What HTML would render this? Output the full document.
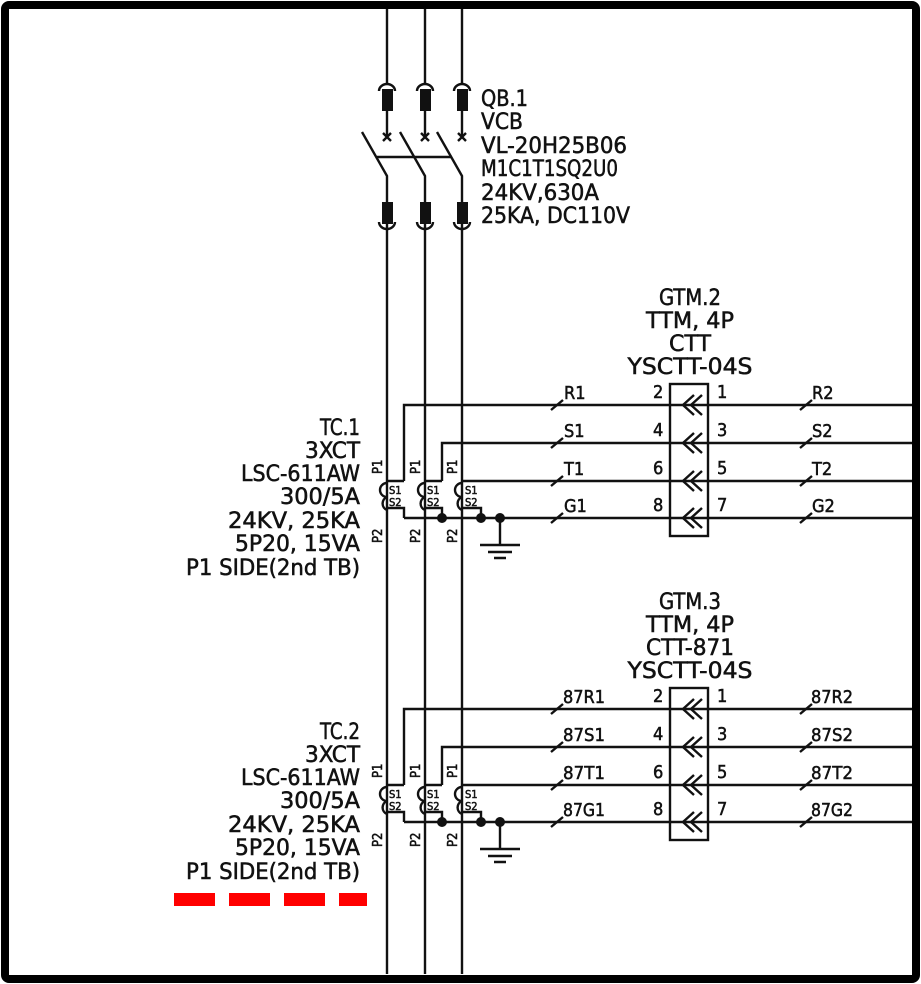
<!DOCTYPE html>
<html><head><meta charset="utf-8"><style>
html,body{margin:0;padding:0;background:#fff}
svg{display:block}
text{font-family:"DejaVu Sans Condensed","DejaVu Sans","Liberation Sans",sans-serif;fill:#111;stroke:#111;stroke-width:0.5}
</style></head><body>
<svg width="921" height="984" viewBox="0 0 921 984" xmlns="http://www.w3.org/2000/svg">
<defs>
<g id="ct" stroke="#111" stroke-width="2.4" fill="none">
  <path d="M387,483 A7,7 0 0 0 387,497 A7,7 0 0 0 387,510"/>
  <path d="M425,483 A7,7 0 0 0 425,497 A7,7 0 0 0 425,510"/>
  <path d="M462,483 A7,7 0 0 0 462,497 A7,7 0 0 0 462,510"/>
  <path d="M387,481 H404 M387,508 H404 V518"/>
  <path d="M425,481 H442 M425,508 H442 V518"/>
  <path d="M462,481 H481 M462,508 H481 V518"/>
  <path d="M404,481 V405 H912"/>
  <path d="M442,481 V443 H912"/>
  <path d="M481,481 H912"/>
  <path d="M404,518 H912"/>
  <path d="M500,518 V545 M480,545 H520 M488,552 H512 M494,558 H506"/>
  <rect x="670" y="384" width="38" height="152"/>
  <path d="M694,395 L683,405 L694,415 M702,395 L691,405 L702,415"/>
  <path d="M694,433 L683,443 L694,453 M702,433 L691,443 L702,453"/>
  <path d="M694,471 L683,481 L694,491 M702,471 L691,481 L702,491"/>
  <path d="M694,508 L683,518 L694,528 M702,508 L691,518 L702,528"/>
  <path d="M551,410 L563,400 M551,448 L563,438 M551,486 L563,476 M551,523 L563,513"/>
  <path d="M800,410 L812,400 M800,448 L812,438 M800,486 L812,476 M800,523 L812,513"/>
</g>
<g id="ctx" fill="#111">
  <circle cx="442" cy="518" r="5"/><circle cx="481" cy="518" r="5"/><circle cx="500" cy="518" r="5"/>
  <g font-size="11">
    <text x="389" y="494">S1</text><text x="389" y="506">S2</text>
    <text x="427" y="494">S1</text><text x="427" y="506">S2</text>
    <text x="465" y="494">S1</text><text x="465" y="506">S2</text>
  </g>
  <g font-size="13">
    <text transform="translate(382,474) rotate(-90)">P1</text>
    <text transform="translate(420,474) rotate(-90)">P1</text>
    <text transform="translate(457,474) rotate(-90)">P1</text>
    <text transform="translate(382,543) rotate(-90)">P2</text>
    <text transform="translate(420,543) rotate(-90)">P2</text>
    <text transform="translate(457,543) rotate(-90)">P2</text>
  </g>
  <g font-size="18">
    <text x="653" y="398">2</text><text x="653" y="436">4</text><text x="653" y="474">6</text><text x="653" y="511">8</text>
    <text x="717" y="398">1</text><text x="717" y="436">3</text><text x="717" y="474">5</text><text x="717" y="511">7</text>
  </g>
</g>
</defs>

<rect x="5" y="5" width="911" height="974" rx="4" fill="none" stroke="#000" stroke-width="8"/>

<g stroke="#111" stroke-width="2.4" fill="none">
  <path d="M387,9 V83 M425,9 V83 M462,9 V83"/>
  <path d="M379,91 A8,7 0 0 1 395,91 M417,91 A8,7 0 0 1 433,91 M454,91 A8,7 0 0 1 470,91"/>
  <path d="M387,110 V137 M425,110 V137 M462,110 V137"/>
  <path d="M383,133 L391,141 M391,133 L383,141 M421,133 L429,141 M429,133 L421,141 M458,133 L466,141 M466,133 L458,141"/>
  <path d="M362,132 L387,176 V203 M400,132 L425,176 V203 M437,132 L462,176 V203"/>
  <path d="M377,157 H452"/>
  <path d="M379,222 A8,7 0 0 0 395,222 M417,222 A8,7 0 0 0 433,222 M454,222 A8,7 0 0 0 470,222"/>
  <path d="M387,222 V974 M425,222 V974 M462,222 V974"/>
</g>
<g fill="#111">
  <rect x="382" y="89" width="11" height="22"/><rect x="420" y="89" width="11" height="22"/><rect x="457" y="89" width="11" height="22"/>
  <rect x="382" y="202" width="11" height="22"/><rect x="420" y="202" width="11" height="22"/><rect x="457" y="202" width="11" height="22"/>
</g>
<g font-size="22">
  <text x="481" y="106" textLength="47" lengthAdjust="spacingAndGlyphs">QB.1</text>
  <text x="481" y="129" textLength="42" lengthAdjust="spacingAndGlyphs">VCB</text>
  <text x="481" y="153" textLength="146" lengthAdjust="spacingAndGlyphs">VL-20H25B06</text>
  <text x="481" y="176" textLength="137" lengthAdjust="spacingAndGlyphs">M1C1T1SQ2U0</text>
  <text x="481" y="200" textLength="118" lengthAdjust="spacingAndGlyphs">24KV,630A</text>
  <text x="481" y="223" textLength="149" lengthAdjust="spacingAndGlyphs">25KA, DC110V</text>
</g>

<use href="#ct"/><use href="#ctx"/>
<g font-size="22" text-anchor="middle">
  <text x="690" y="305" textLength="62" lengthAdjust="spacingAndGlyphs">GTM.2</text>
  <text x="690" y="328" textLength="88" lengthAdjust="spacingAndGlyphs">TTM, 4P</text>
  <text x="690" y="351" textLength="42" lengthAdjust="spacingAndGlyphs">CTT</text>
  <text x="690" y="374" textLength="125" lengthAdjust="spacingAndGlyphs">YSCTT-04S</text>
</g>
<g font-size="22" text-anchor="end">
  <text x="360" y="435" textLength="40" lengthAdjust="spacingAndGlyphs">TC.1</text>
  <text x="360" y="458" textLength="55" lengthAdjust="spacingAndGlyphs">3XCT</text>
  <text x="360" y="481" textLength="119" lengthAdjust="spacingAndGlyphs">LSC-611AW</text>
  <text x="360" y="504" textLength="80" lengthAdjust="spacingAndGlyphs">300/5A</text>
  <text x="360" y="528" textLength="132" lengthAdjust="spacingAndGlyphs">24KV, 25KA</text>
  <text x="360" y="551" textLength="125" lengthAdjust="spacingAndGlyphs">5P20, 15VA</text>
  <text x="360" y="575" textLength="174" lengthAdjust="spacingAndGlyphs">P1 SIDE(2nd TB)</text>
</g>
<g font-size="18">
  <text x="564" y="399">R1</text><text x="564" y="437">S1</text><text x="564" y="475">T1</text><text x="564" y="512">G1</text>
  <text x="812" y="399">R2</text><text x="812" y="437">S2</text><text x="812" y="475">T2</text><text x="812" y="512">G2</text>
</g>

<g transform="translate(0,304)"><use href="#ct"/><use href="#ctx"/></g>
<g font-size="22" text-anchor="middle">
  <text x="690" y="609" textLength="62" lengthAdjust="spacingAndGlyphs">GTM.3</text>
  <text x="690" y="632" textLength="88" lengthAdjust="spacingAndGlyphs">TTM, 4P</text>
  <text x="690" y="655" textLength="88" lengthAdjust="spacingAndGlyphs">CTT-871</text>
  <text x="690" y="678" textLength="125" lengthAdjust="spacingAndGlyphs">YSCTT-04S</text>
</g>
<g font-size="22" text-anchor="end">
  <text x="360" y="739" textLength="40" lengthAdjust="spacingAndGlyphs">TC.2</text>
  <text x="360" y="762" textLength="55" lengthAdjust="spacingAndGlyphs">3XCT</text>
  <text x="360" y="785" textLength="119" lengthAdjust="spacingAndGlyphs">LSC-611AW</text>
  <text x="360" y="808" textLength="80" lengthAdjust="spacingAndGlyphs">300/5A</text>
  <text x="360" y="832" textLength="132" lengthAdjust="spacingAndGlyphs">24KV, 25KA</text>
  <text x="360" y="855" textLength="125" lengthAdjust="spacingAndGlyphs">5P20, 15VA</text>
  <text x="360" y="879" textLength="174" lengthAdjust="spacingAndGlyphs">P1 SIDE(2nd TB)</text>
</g>
<g font-size="18">
  <text x="563" y="703" textLength="42" lengthAdjust="spacingAndGlyphs">87R1</text><text x="563" y="741" textLength="42" lengthAdjust="spacingAndGlyphs">87S1</text><text x="563" y="779" textLength="42" lengthAdjust="spacingAndGlyphs">87T1</text><text x="563" y="816" textLength="42" lengthAdjust="spacingAndGlyphs">87G1</text>
  <text x="811" y="703" textLength="42" lengthAdjust="spacingAndGlyphs">87R2</text><text x="811" y="741" textLength="42" lengthAdjust="spacingAndGlyphs">87S2</text><text x="811" y="779" textLength="42" lengthAdjust="spacingAndGlyphs">87T2</text><text x="811" y="816" textLength="42" lengthAdjust="spacingAndGlyphs">87G2</text>
</g>

<g fill="#f00">
  <rect x="174" y="893" width="41" height="13"/>
  <rect x="229" y="893" width="41" height="13"/>
  <rect x="284" y="893" width="41" height="13"/>
  <rect x="339" y="893" width="28" height="13"/>
</g>
</svg>
</body></html>
